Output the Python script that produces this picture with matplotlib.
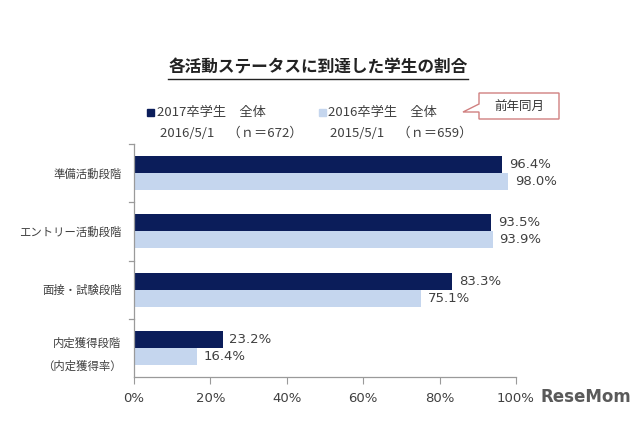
import matplotlib
matplotlib.use("Agg")
import matplotlib.pyplot as plt
from matplotlib.patches import Polygon
from matplotlib.lines import Line2D

plt.rcParams['font.family'] = ['Noto Sans CJK JP', 'DejaVu Sans']

categories = ["準備活動段階", "エントリー活動段階", "面接・試験段階", "内定獲得段階\n（内定獲得率）"]
values_2017 = [96.4, 93.5, 83.3, 23.2]
values_2016 = [98.0, 93.9, 75.1, 16.4]
xticks = [0, 20, 40, 60, 80, 100]
xtick_labels = ["0%", "20%", "40%", "60%", "80%", "100%"]
title = "各活動ステータスに到達した学生の割合"
legend1 = ["2017卒学生　全体", "2016/5/1　（ｎ＝672）"]
legend2 = ["2016卒学生　全体", "2015/5/1　（ｎ＝659）"]
callout = "前年同月"

DARK = "#0b1d5a"
LIGHT = "#c5d6ee"
TXT = "#404040"

W, H = 633, 422
fig = plt.figure(figsize=(W / 100, H / 100), dpi=100)
fig.patch.set_facecolor("white")

def fx(px):
    return px / W

def fy(py):
    return 1 - py / H

ax = fig.add_axes([fx(134), fy(377), fx(516) - fx(134), fy(144) - fy(377)])

bh = 0.29
ys = list(range(len(categories)))
ax.barh([y - bh / 2 for y in ys], values_2017, height=bh, color=DARK, zorder=2)
ax.barh([y + bh / 2 for y in ys], values_2016, height=bh, color=LIGHT, zorder=2)

for y, v in zip(ys, values_2017):
    ax.text(v + 1.8, y - bh / 2, f"{v:.1f}%", va="center", ha="left",
            fontsize=9.5, color=TXT, family="DejaVu Sans")
for y, v in zip(ys, values_2016):
    ax.text(v + 1.8, y + bh / 2, f"{v:.1f}%", va="center", ha="left",
            fontsize=9.5, color=TXT, family="DejaVu Sans")

ax.set_xlim(0, 100)
ax.set_ylim(len(categories) - 0.5, -0.5)
ax.set_xticks(xticks)
ax.set_xticklabels(xtick_labels, fontsize=9.5, color=TXT, family="DejaVu Sans")
ax.set_yticks([y for y in ys])
ax.set_yticklabels(categories, fontsize=8.2, color=TXT, linespacing=2.3)
ax.tick_params(axis="y", length=0, pad=9)
ax.tick_params(axis="x", length=5, color="#9a9a9a", pad=6, direction="out")
# boundary ticks on the left axis
for b in [-0.5, 0.5, 1.5, 2.5]:
    ax.plot([-1.3, 0], [b, b], color="#9a9a9a", lw=0.9, clip_on=False, zorder=3)

for s in ["top", "right"]:
    ax.spines[s].set_visible(False)
for s in ["left", "bottom"]:
    ax.spines[s].set_color("#9a9a9a")
    ax.spines[s].set_linewidth(0.9)

# title with underline
t = fig.text(fx(318), fy(68), title, ha="center", va="center",
             fontsize=12, fontweight="bold", color="#222222")
fig.canvas.draw()
bb = t.get_window_extent(renderer=fig.canvas.get_renderer())
fig.add_artist(Line2D([bb.x0 / W, bb.x1 / W], [fy(79), fy(79)],
                      transform=fig.transFigure, color="#222222", lw=1.0))

# legend
fig.patches.append(plt.Rectangle((fx(147), fy(116)), fx(7), 7 / H, color=DARK,
                                 transform=fig.transFigure, figure=fig))
fig.text(fx(157), fy(112), legend1[0], ha="left", va="center", fontsize=9.5, color=TXT)
fig.text(fx(160), fy(133), legend1[1], ha="left", va="center", fontsize=9.5, color=TXT)
fig.patches.append(plt.Rectangle((fx(319), fy(116)), fx(7), 7 / H, color=LIGHT,
                                 transform=fig.transFigure, figure=fig))
fig.text(fx(328), fy(112), legend2[0], ha="left", va="center", fontsize=9.5, color=TXT)
fig.text(fx(330), fy(133), legend2[1], ha="left", va="center", fontsize=9.5, color=TXT)

# callout box
pts_px = [(479, 93), (559, 93), (559, 119), (479, 119), (479, 112), (463, 112), (479, 104)]
poly = Polygon([(fx(x), fy(y)) for x, y in pts_px], closed=True, facecolor="white",
               edgecolor="#d08080", lw=1.0, transform=fig.transFigure)
fig.patches.append(poly)
fig.text(fx(519), fy(106), callout, ha="center", va="center", fontsize=9, color="#333333")

# watermark
fig.text(fx(541), fy(397), "ReseMom", ha="left", va="center", fontsize=12,
         fontweight="bold", color="#5a5a5a", family="DejaVu Sans")

fig.savefig("out.png", dpi=100, facecolor="white")
